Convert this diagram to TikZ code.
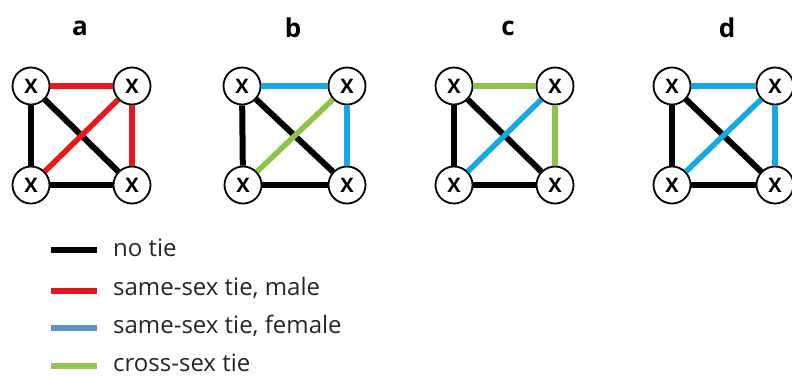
\documentclass[tikz,border=0pt]{standalone}
\usepackage{fontspec}
\setmainfont{Open Sans}
\begin{document}
\begin{tikzpicture}[x=1pt,y=-1pt,
  vtx/.style={circle,draw=black,line width=1.8pt,fill=white,minimum size=37pt,inner sep=0pt,font=\fontsize{20}{20}\selectfont\bfseries},
  ttl/.style={font=\fontsize{26}{26}\selectfont\bfseries},
  lbl/.style={anchor=west,inner sep=0pt,font=\fontsize{24}{24}\selectfont,text=black!85},
  nt/.style={line width=6pt,black},
  rd/.style={line width=5.5pt,color=tred},
  bl/.style={line width=5.5pt,color=tblue},
  gr/.style={line width=5.5pt,color=tgreen},
  lg/.style={line width=6pt}]
\definecolor{tred}{RGB}{232,24,30}
\definecolor{tblue}{RGB}{20,168,228}
\definecolor{tgreen}{RGB}{140,196,72}
\definecolor{lblue}{RGB}{96,146,200}
\definecolor{lred}{RGB}{226,20,30}
\definecolor{lgreen}{RGB}{146,200,80}
\useasboundingbox (0,0) rectangle (792,376);
% panel a
\node[ttl] (ta) at (80,28) {a};
\node[vtx] (a1) at (31,86) {X};
\node[vtx] (a2) at (132,86) {X};
\node[vtx] (a3) at (31,185) {X};
\node[vtx] (a4) at (132,185) {X};
% panel b
\node[ttl] (tb) at (293,28) {b};
\node[vtx] (b1) at (242,86) {X};
\node[vtx] (b2) at (347,86) {X};
\node[vtx] (b3) at (243,185) {X};
\node[vtx] (b4) at (347,185) {X};
% panel c
\node[ttl] (tc) at (508,28) {c};
\node[vtx] (c1) at (454,86) {X};
\node[vtx] (c2) at (555,86) {X};
\node[vtx] (c3) at (454,185) {X};
\node[vtx] (c4) at (555,185) {X};
% panel d
\node[ttl] (td) at (727,28) {d};
\node[vtx] (d1) at (672,86) {X};
\node[vtx] (d2) at (775,86) {X};
\node[vtx] (d3) at (672,185) {X};
\node[vtx] (d4) at (775,185) {X};
% edges
\draw[rd] (a1) -- (a2);
\draw[nt] (a1) -- (a3);
\draw[nt] (a1) -- (a4);
\draw[rd] (a3) -- (a2);
\draw[rd] (a2) -- (a4);
\draw[nt] (a3) -- (a4);
\draw[bl] (b1) -- (b2);
\draw[nt] (b1) -- (b3);
\draw[nt] (b1) -- (b4);
\draw[gr] (b3) -- (b2);
\draw[bl] (b2) -- (b4);
\draw[nt] (b3) -- (b4);
\draw[gr] (c1) -- (c2);
\draw[nt] (c1) -- (c3);
\draw[nt] (c1) -- (c4);
\draw[bl] (c3) -- (c2);
\draw[gr] (c2) -- (c4);
\draw[nt] (c3) -- (c4);
\draw[bl] (d1) -- (d2);
\draw[nt] (d1) -- (d3);
\draw[nt] (d1) -- (d4);
\draw[bl] (d3) -- (d2);
\draw[bl] (d2) -- (d4);
\draw[nt] (d3) -- (d4);
% legend
\coordinate (l1a) at (51,250); \coordinate (l1b) at (97,250);
\coordinate (l2a) at (51,291); \coordinate (l2b) at (97,291);
\coordinate (l3a) at (51,328); \coordinate (l3b) at (97,328);
\coordinate (l4a) at (51,366); \coordinate (l4b) at (97,366);
\draw[lg,black] (l1a) -- (l1b);
\draw[lg,lred] (l2a) -- (l2b);
\draw[lg,lblue] (l3a) -- (l3b);
\draw[lg,lgreen] (l4a) -- (l4b);
\node[lbl] (n1) at (113,248) {no tie};
\node[lbl] (n2) at (113,288) {same-sex tie, male};
\node[lbl] (n3) at (113,326) {same-sex tie, female};
\node[lbl] (n4) at (113,363) {cross-sex tie};
\end{tikzpicture}
\end{document}
